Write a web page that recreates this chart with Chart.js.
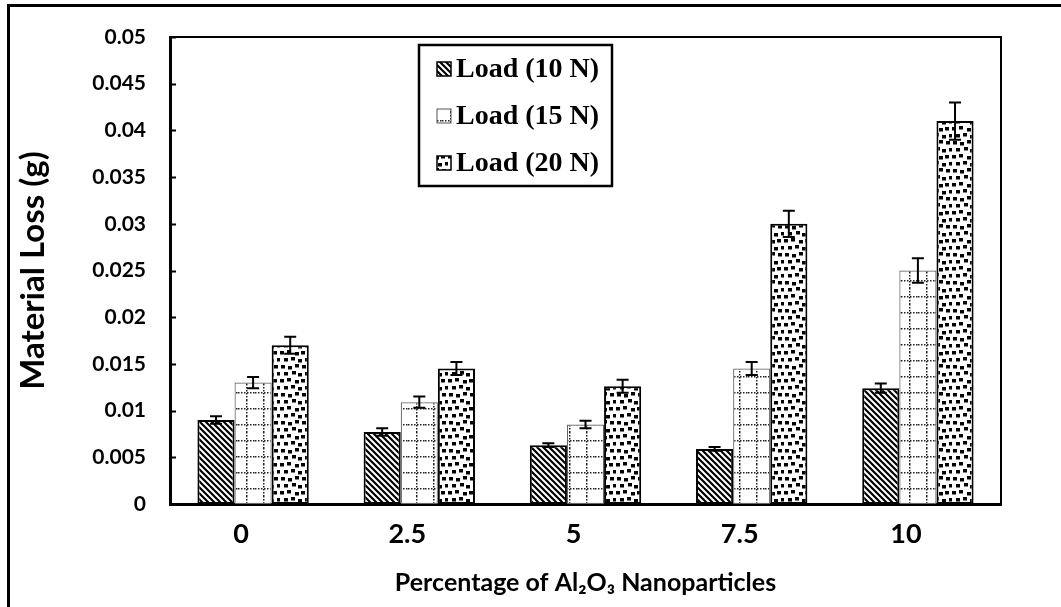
<!DOCTYPE html>
<html>
<head>
<meta charset="utf-8">
<script src="https://cdn.jsdelivr.net/npm/chart.js@4.4.0/dist/chart.umd.min.js"></script>
<style>
  html, body { margin: 0; padding: 0; background: #fff; }
  #wrap { position: relative; width: 1061px; height: 607px; overflow: hidden; }
  #wrap canvas { position: absolute; left: 0; top: 0; }
  #frame { position: absolute; left: 7px; top: 4px; right: -10px; bottom: -10px;
           border-left: 3px solid #000; border-top: 3px solid #000; pointer-events: none; }
</style>
</head>
<body>
<div id="wrap">
  <canvas id="chart" width="1061" height="607"></canvas>
  <div id="frame"></div>
</div>
<script>
// Alumina content (wt.%) on the x axis
const categories = ['0', '2.5', '5', '7.5', '10'];
const seriesNames = ['Load (10 N)', 'Load (15 N)', 'Load (20 N)'];

// Material loss (g) per load
const load10 = [0.0090, 0.0077, 0.0063, 0.0059, 0.0124];
const load15 = [0.0130, 0.0109, 0.0085, 0.0145, 0.0250];
const load20 = [0.0170, 0.0145, 0.0126, 0.0300, 0.0410];

// Standard deviations shown as error bars
const err10 = [0.0004, 0.0004, 0.0002, 0.0002, 0.0005];
const err15 = [0.0006, 0.0006, 0.0004, 0.0007, 0.0013];
const err20 = [0.0009, 0.0007, 0.0007, 0.0014, 0.0020];

const yTickLabels = ['0', '0.005', '0.01', '0.015', '0.02', '0.025', '0.03', '0.035', '0.04', '0.045', '0.05'];

// ---- fill patterns ----
function tile(w, h, draw) {
  const c = document.createElement('canvas');
  c.width = w; c.height = h;
  const g = c.getContext('2d');
  g.fillStyle = '#fff';
  g.fillRect(0, 0, w, h);
  draw(g);
  return c;
}
const ctxMain = document.getElementById('chart').getContext('2d');

// diagonal hatching "\\\"
const hatchTile = tile(6, 6, g => {
  g.strokeStyle = '#000';
  g.lineWidth = 2.2;
  g.beginPath();
  g.moveTo(-1, -1); g.lineTo(7, 7);
  g.moveTo(-4, 2); g.lineTo(4, 10);
  g.moveTo(2, -4); g.lineTo(10, 4);
  g.stroke();
});
// dotted grid
const gridTile = tile(17, 16, g => {
  g.fillStyle = '#222';
  for (let y = 0; y < 16; y += 3) g.fillRect(8, y, 1.5, 1.5);
  for (let x = 0; x < 17; x += 3) g.fillRect(x, 8, 1.5, 1.5);
});
// scattered square dots
const dotPos = [[1,1],[8,2],[15,0],[22,1],[4,8],[12,7],[18,9],[25,8],
                [0,15],[7,14],[15,16],[21,15],[4,22],[11,21],[18,23],[25,22]];
const dotTile = tile(28, 28, g => {
  g.fillStyle = '#000';
  dotPos.forEach(p => g.fillRect(p[0], p[1], 4, 3.5));
});
const patterns = [
  ctxMain.createPattern(hatchTile, 'repeat'),
  ctxMain.createPattern(gridTile, 'repeat'),
  ctxMain.createPattern(dotTile, 'repeat')
];
const errors = [err10, err15, err20];

// ---- plugins ----
const errorBars = {
  id: 'errorBars',
  afterDatasetsDraw(chart) {
    const g = chart.ctx, ys = chart.scales.y;
    g.save();
    g.strokeStyle = '#000';
    g.lineWidth = 2;
    chart.data.datasets.forEach((ds, i) => {
      const meta = chart.getDatasetMeta(i);
      meta.data.forEach((bar, j) => {
        const v = ds.data[j], e = errors[i][j];
        const yT = ys.getPixelForValue(v + e), yB = ys.getPixelForValue(v - e);
        g.beginPath();
        g.moveTo(bar.x, yT); g.lineTo(bar.x, yB);
        g.moveTo(bar.x - 6, yT); g.lineTo(bar.x + 6, yT);
        g.moveTo(bar.x - 6, yB); g.lineTo(bar.x + 6, yB);
        g.stroke();
      });
    });
    g.restore();
  }
};

const frameAndLegend = {
  id: 'frameAndLegend',
  afterDraw(chart) {
    const g = chart.ctx, a = chart.chartArea, ys = chart.scales.y;
    g.save();
    // plot border (top and right)
    g.strokeStyle = '#000';
    g.lineWidth = 2;
    g.beginPath();
    g.moveTo(a.left, a.top); g.lineTo(a.right, a.top); g.lineTo(a.right, a.bottom);
    g.stroke();
    // inward tick marks on the value axis
    ys.ticks.forEach(t => {
      const y = Math.round(ys.getPixelForValue(t.value)) + 0.5;
      g.beginPath(); g.moveTo(a.left, y); g.lineTo(a.left + 6, y); g.stroke();
    });
    // legend box
    const bx = 419, by = 45, bw = 193, bh = 141;
    g.lineWidth = 2.5;
    g.strokeRect(bx, by, bw, bh);
    g.font = 'bold 28px "Liberation Serif", "Times New Roman", serif';
    g.textBaseline = 'middle';
    chart.data.datasets.forEach((ds, i) => {
      const cy = by + 24 + i * 47;
      g.fillStyle = patterns[i];
      g.fillRect(437, cy - 7, 14, 14);
      g.lineWidth = i === 1 ? 1 : 1.5;
      g.strokeStyle = i === 1 ? '#555' : '#000';
      g.strokeRect(437, cy - 7, 14, 14);
      g.fillStyle = '#000';
      g.fillText(ds.label, 456, cy + 1);
    });
    g.restore();
  }
};

new Chart(ctxMain, {
  type: 'bar',
  data: {
    labels: categories,
    datasets: [
      { label: seriesNames[0], data: load10, backgroundColor: patterns[0], borderColor: '#000', borderWidth: 2 },
      { label: seriesNames[1], data: load15, backgroundColor: patterns[1], borderColor: '#666', borderWidth: 1.2 },
      { label: seriesNames[2], data: load20, backgroundColor: patterns[2], borderColor: '#000', borderWidth: 2 }
    ]
  },
  options: {
    responsive: false,
    animation: false,
    layout: { padding: { left: 0, right: 60, top: 37, bottom: 0 } },
    datasets: { bar: { barPercentage: 1.0, categoryPercentage: 0.67, borderSkipped: false } },
    plugins: { legend: { display: false }, tooltip: { enabled: false } },
    scales: {
      x: {
        grid: { display: false, drawTicks: false },
        border: { display: true, color: '#000', width: 3 },
        ticks: {
          color: '#000', padding: 14, labelOffset: -12, maxRotation: 0,
          font: { family: 'Lato', size: 27, weight: 'bold' }
        },
        title: {
          display: true, text: 'Percentage of Al\u2082O\u2083 Nanoparticles', color: '#000',
          font: { family: 'Lato', size: 25, weight: 'bold' }, padding: { top: 0, bottom: 9 }
        },
        afterFit(s) { s.height = 103; }
      },
      y: {
        min: 0, max: 0.05,
        grid: { display: false, drawTicks: false },
        border: { display: true, color: '#000', width: 3 },
        ticks: {
          stepSize: 0.005, color: '#000', padding: 24,
          font: { family: 'Lato', size: 21, weight: 'bold' },
          callback: (v, i) => yTickLabels[i]
        },
        title: {
          display: true, text: 'Material Loss (g)', color: '#000',
          font: { family: 'Lato', size: 33, weight: 'bold' }, padding: { top: 14, bottom: 0 }
        },
        afterFit(s) { s.width = 170; }
      }
    }
  },
  plugins: [errorBars, frameAndLegend]
});
</script>
</body>
</html>
